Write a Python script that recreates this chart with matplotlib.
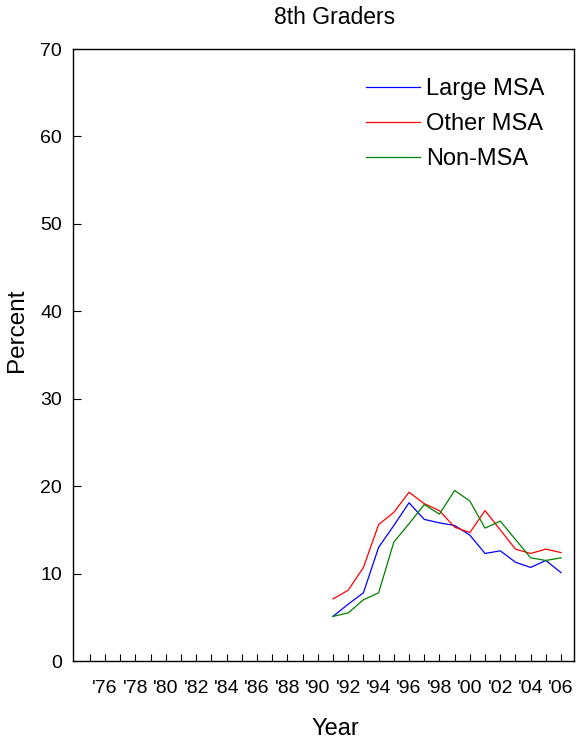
import matplotlib.pyplot as plt

plt.rcParams['font.family'] = ['Liberation Sans', 'DejaVu Sans']

years = list(range(1991, 2007))
large_msa = [5.1, 6.5, 7.8, 13.0, 15.5, 18.1, 16.2, 15.8, 15.5, 14.4,
             12.3, 12.6, 11.3, 10.7, 11.5, 10.1]
other_msa = [7.1, 8.1, 10.7, 15.6, 17.0, 19.3, 18.0, 17.2, 15.3, 14.7,
             17.2, 15.0, 12.8, 12.3, 12.8, 12.4]
non_msa = [5.1, 5.5, 7.0, 7.8, 13.6, 15.7, 17.9, 16.8, 19.5, 18.3,
           15.2, 16.0, 13.9, 11.8, 11.5, 11.8]

tick_years = list(range(1976, 2007, 2))
tick_labels = ["'%02d" % (y % 100) for y in tick_years]

fig = plt.figure(figsize=(5.77, 7.39), dpi=100)
ax = fig.add_axes([73 / 577, 1 - 661 / 739, 501 / 577, 612 / 739])

ax.plot(years, large_msa, color='#0000ff', lw=0.9, label='Large MSA')
ax.plot(years, other_msa, color='#ff0000', lw=0.9, label='Other MSA')
ax.plot(years, non_msa, color='#008000', lw=0.9, label='Non-MSA')

ax.set_xlim(1973.9, 2006.85)
ax.set_ylim(0, 70)
ax.set_yticks(range(0, 71, 10))
ax.set_xticks(tick_years)
ax.set_xticklabels(tick_labels)
ax.set_xticks(range(1975, 2007), minor=True)
ax.tick_params(axis='x', which='both', direction='in', length=5, width=0.8,
               labelsize=14, pad=14)
ax.tick_params(axis='y', direction='in', length=6, width=0.8, labelsize=14, pad=8)

for s in ax.spines.values():
    s.set_linewidth(1.0)

ax.set_title('8th Graders', fontsize=16.5, pad=18, x=0.523)
ax.set_xlabel('Year', fontsize=17)
ax.xaxis.set_label_coords(0.523, -0.093)
ax.set_ylabel('Percent', fontsize=17.5)
ax.yaxis.set_label_coords(-0.09, 0.54)

ax.legend(loc='upper left', frameon=False, fontsize=17, handlelength=2.29,
          handletextpad=0.25, labelspacing=0.55, borderpad=0, borderaxespad=0,
          bbox_to_anchor=(366 / 577, 1 - 78 / 739), bbox_transform=fig.transFigure)

fig.savefig('out.png', dpi=100)
